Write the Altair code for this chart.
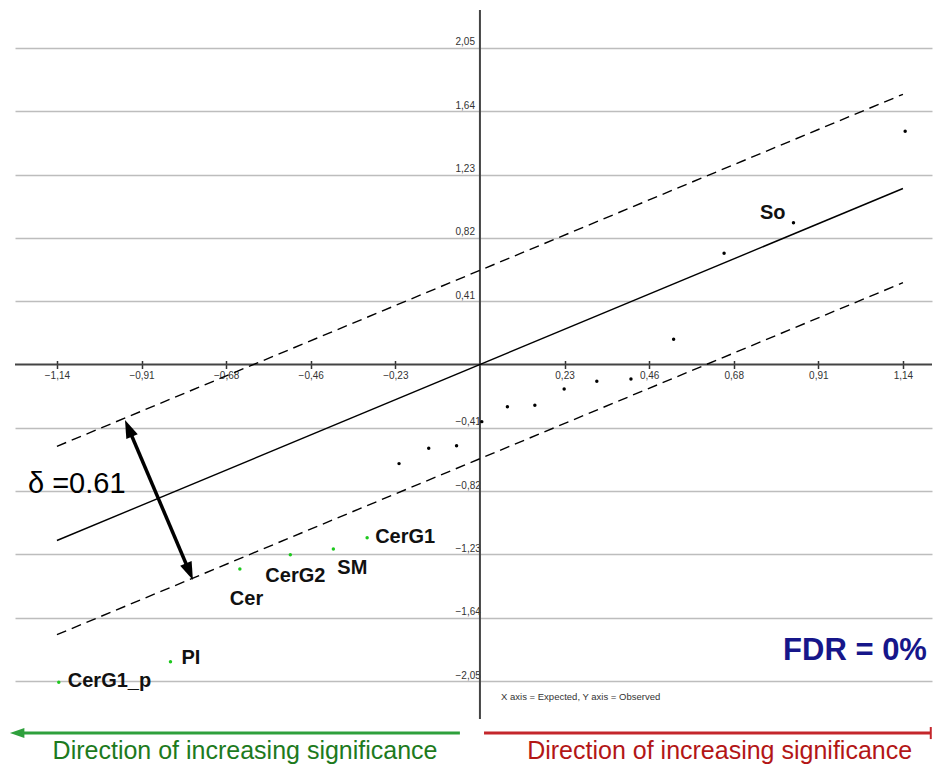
import altair as alt
import pandas as pd

# ---------------- data ----------------
# black (non-significant) points: expected (x) vs observed (y)
PT_X = [-0.218, -0.138, -0.063, 0.005, 0.074, 0.148, 0.227, 0.315, 0.407, 0.522, 0.658, 0.845, 1.146]
PT_Y = [-0.642, -0.543, -0.526, -0.370, -0.273, -0.264, -0.159, -0.109, -0.094, 0.163, 0.720, 0.918, 1.510]
PT_LABEL = ["", "", "", "", "", "", "", "", "", "", "", "So", ""]

# green (significant) points
SIG_X = [-0.304, -0.395, -0.511, -0.647, -0.834, -1.135]
SIG_Y = [-1.122, -1.195, -1.232, -1.324, -1.925, -2.058]
SIG_LABEL = ["CerG1", "SM", "CerG2", "Cer", "PI", "CerG1_p"]

# reference lines (end points)
LINE_X = [-1.14, 1.14]
CENTER_Y = [-1.14, 1.14]
UPPER_Y = [-0.53, 1.75]
LOWER_Y = [-1.75, 0.53]
DELTA = 0.61

# ticks
X_TICKS = [-1.14, -0.912, -0.684, -0.456, -0.228, 0.228, 0.456, 0.684, 0.912, 1.14]
Y_TICKS = [-2.05, -1.64, -1.23, -0.82, -0.41, 0.41, 0.82, 1.23, 1.64, 2.05]

# annotation anchors (data units)
DELTA_ARROW = {"x1": -0.946, "y1": -0.419, "x2": -0.784, "y2": -1.336}
DELTA_TEXT = {"x": -1.218, "y": -0.832}
FDR_TEXT = {"x": 0.817, "y": -1.914}
NOTE_TEXT = {"x": 0.057, "y": -2.154}
GREEN_ARROW = {"x_start": -0.054, "x_end": -1.235, "y": -2.387, "head_x": -1.245}
RED_ARROW = {"x_start": 0.011, "x_end": 1.215, "y": -2.387, "bar_y1": -2.348, "bar_y2": -2.426}
DIR_TEXT_Y = -2.555
GREEN_TEXT_X = -0.633
RED_TEXT_X = 0.646

# label placement styles (pixel offsets from the point)
LABEL_STYLE = {
    "CerG1": dict(align="left", dx=8, dy=5),
    "SM": dict(align="left", dx=4, dy=25),
    "CerG2": dict(align="left", dx=-25, dy=27),
    "Cer": dict(align="left", dx=-10, dy=36),
    "PI": dict(align="left", dx=11, dy=2),
    "CerG1_p": dict(align="left", dx=9, dy=5),
    "So": dict(align="right", dx=-8, dy=-4),
}

FONT = "Liberation Sans"

# ---------------- scales / axes ----------------
XS = alt.Scale(domain=[-1.253, 1.2183], nice=False, zero=False)
YS = alt.Scale(domain=[-2.296, 2.296], nice=False, zero=False)

XAXIS = alt.Axis(
    values=X_TICKS, orient="bottom", offset=-358.5, domain=False, grid=False,
    ticks=True, tickSize=8, tickColor="#333", tickWidth=1.5,
    labelExpr="replace(format(datum.value, '.2f'), '.', ',')",
    labelFont=FONT, labelFontSize=10, labelColor="#333", labelPadding=2,
    title=None,
)
YAXIS = alt.Axis(
    values=Y_TICKS, orient="left", offset=-465, domain=False, ticks=False,
    grid=True, gridColor="#bdbdbd", gridWidth=1.5,
    labelExpr="replace(format(datum.value, '.2f'), '.', ',')",
    labelFont=FONT, labelFontSize=10, labelColor="#333",
    labelAlign="left", labelPadding=25, labelBaseline="alphabetic", labelOffset=-3,
    title=None,
)


def X(field):
    return alt.X(field, type="quantitative", scale=XS, axis=XAXIS)


def Y(field):
    return alt.Y(field, type="quantitative", scale=YS, axis=YAXIS)


pts = pd.DataFrame({"x": PT_X, "y": PT_Y, "label": PT_LABEL})
sig = pd.DataFrame({"x": SIG_X, "y": SIG_Y, "label": SIG_LABEL})

lines = pd.DataFrame({
    "x": LINE_X * 3,
    "y": CENTER_Y + UPPER_Y + LOWER_Y,
    "kind": ["center"] * 2 + ["upper"] * 2 + ["lower"] * 2,
})

base_grid = alt.Chart(pd.DataFrame({"x": [0.0], "y": [0.0]})).mark_point(opacity=0).encode(
    x=X("x"), y=Y("y")
)

axis_v = alt.Chart(pd.DataFrame({"x": [0.0]})).mark_rule(color="#444", strokeWidth=2).encode(x=X("x"))
axis_h = alt.Chart(pd.DataFrame({"y": [0.0]})).mark_rule(color="#444", strokeWidth=2).encode(y=Y("y"))

center_line = alt.Chart(lines[lines.kind == "center"]).mark_line(
    color="black", strokeWidth=1.4, clip=False
).encode(x=X("x"), y=Y("y"))

dashed = alt.Chart(lines[lines.kind != "center"]).mark_line(
    color="black", strokeWidth=1.4, strokeDash=[10, 6], clip=False
).encode(x=X("x"), y=Y("y"), detail="kind:N")

black_pts = alt.Chart(pts).mark_circle(color="black", size=12, opacity=1).encode(x=X("x"), y=Y("y"))
green_pts = alt.Chart(sig).mark_circle(color="#1ec81e", size=12, opacity=1).encode(x=X("x"), y=Y("y"))

label_layers = []
all_labels = pd.concat([pts[pts.label != ""], sig], ignore_index=True)
for name, st in LABEL_STYLE.items():
    d = all_labels[all_labels.label == name]
    label_layers.append(
        alt.Chart(d).mark_text(
            font=FONT, fontSize=20, fontWeight="bold", color="#111",
            baseline="alphabetic", **st
        ).encode(x=X("x"), y=Y("y"), text="label:N")
    )

# delta double arrow
arrow_df = pd.DataFrame({"x": [DELTA_ARROW["x1"], DELTA_ARROW["x2"]],
                         "y": [DELTA_ARROW["y1"], DELTA_ARROW["y2"]]})
delta_line = alt.Chart(arrow_df).mark_line(color="black", strokeWidth=3.5, clip=False).encode(
    x=X("x"), y=Y("y"))
HEAD = "M0,-1L0.62,0.8L-0.62,0.8Z"
head_top = alt.Chart(arrow_df.iloc[[0]]).mark_point(
    shape=HEAD, filled=True, size=400, angle=337, color="black", opacity=1, strokeWidth=0
).encode(x=X("x"), y=Y("y"))
head_bot = alt.Chart(arrow_df.iloc[[1]]).mark_point(
    shape=HEAD, filled=True, size=400, angle=157, color="black", opacity=1, strokeWidth=0
).encode(x=X("x"), y=Y("y"))

delta_text = alt.Chart(pd.DataFrame({"x": [DELTA_TEXT["x"]], "y": [DELTA_TEXT["y"]],
                                     "t": [f"δ ={DELTA}"]})).mark_text(
    font=FONT, fontSize=29, align="left", baseline="alphabetic", color="black"
).encode(x=X("x"), y=Y("y"), text="t:N")

fdr_text = alt.Chart(pd.DataFrame({"x": [FDR_TEXT["x"]], "y": [FDR_TEXT["y"]],
                                   "t": ["FDR = 0%"]})).mark_text(
    font=FONT, fontSize=31, fontWeight="bold", align="left", baseline="alphabetic", color="#16168a"
).encode(x=X("x"), y=Y("y"), text="t:N")

note_text = alt.Chart(pd.DataFrame({"x": [NOTE_TEXT["x"]], "y": [NOTE_TEXT["y"]],
                                    "t": ["X axis = Expected, Y axis = Observed"]})).mark_text(
    font=FONT, fontSize=9.5, align="left", baseline="middle", color="#333"
).encode(x=X("x"), y=Y("y"), text="t:N")

# bottom direction arrows
g_df = pd.DataFrame({"x": [GREEN_ARROW["x_start"], GREEN_ARROW["x_end"]],
                     "y": [GREEN_ARROW["y"], GREEN_ARROW["y"]]})
g_line = alt.Chart(g_df).mark_line(color="#2ea03c", strokeWidth=3, clip=False).encode(x=X("x"), y=Y("y"))
g_head = alt.Chart(pd.DataFrame({"x": [GREEN_ARROW["head_x"]], "y": [GREEN_ARROW["y"]]})).mark_point(
    shape=HEAD, filled=True, size=256, angle=270, color="#2ea03c", opacity=1, strokeWidth=0
).encode(x=X("x"), y=Y("y"))

r_df = pd.DataFrame({"x": [RED_ARROW["x_start"], RED_ARROW["x_end"]],
                     "y": [RED_ARROW["y"], RED_ARROW["y"]]})
r_line = alt.Chart(r_df).mark_line(color="#c4262b", strokeWidth=3, clip=False).encode(x=X("x"), y=Y("y"))
r_bar = alt.Chart(pd.DataFrame({"x": [RED_ARROW["x_end"]], "y": [RED_ARROW["bar_y1"]],
                                "y2": [RED_ARROW["bar_y2"]]})).mark_rule(
    color="#c4262b", strokeWidth=2).encode(x=X("x"), y=Y("y"), y2="y2")

dir_df = pd.DataFrame({"x": [GREEN_TEXT_X, RED_TEXT_X], "y": [DIR_TEXT_Y, DIR_TEXT_Y],
                       "t": ["Direction of increasing significance"] * 2,
                       "c": ["green", "red"]})
dir_text = alt.Chart(dir_df).mark_text(
    font=FONT, fontSize=25, align="center", baseline="alphabetic"
).encode(
    x=X("x"), y=Y("y"), text="t:N",
    color=alt.Color("c:N", scale=alt.Scale(domain=["green", "red"], range=["#1d7a1d", "#b31616"]),
                    legend=None),
)

chart = alt.layer(
    base_grid, axis_h, axis_v, center_line, dashed, black_pts, green_pts,
    *label_layers, delta_line, head_top, head_bot, delta_text, fdr_text, note_text,
    g_line, g_head, r_line, r_bar, dir_text,
).properties(
    width=917, height=709,
    padding={"left": 7, "top": 2, "right": 1, "bottom": 46},
    autosize=alt.AutoSizeParams(type="none"),
    background="white",
).configure_view(stroke=None)

chart.save("out.html", embed_options={"renderer": "svg", "actions": False})
